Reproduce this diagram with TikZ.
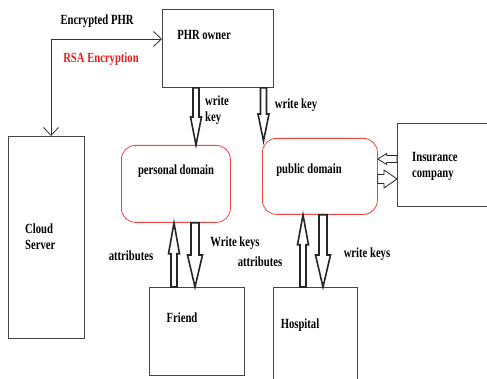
\documentclass[tikz,border=0pt]{standalone}
\usepackage{fontspec}
\setmainfont{Liberation Serif}[FakeStretch=0.76]
\usetikzlibrary{arrows.meta,calc}
\definecolor{boxline}{RGB}{70,70,70}
\definecolor{roundred}{RGB}{235,70,70}
\definecolor{rsared}{RGB}{235,30,30}
\newcommand\blockv[5]{% start, end, shaft half width, head half width, head length
  \draw[barrow] let \p1=(#1), \p2=(#2), \n1={sign(\y2-\y1)} in
    (\x1-#3pt,\y1) -- (\x1-#3pt,\y2-\n1*#5pt) -- (\x1-#4pt,\y2-\n1*#5pt) -- (\x1,\y2)
    -- (\x1+#4pt,\y2-\n1*#5pt) -- (\x1+#3pt,\y2-\n1*#5pt) -- (\x1+#3pt,\y1) -- cycle
    [line width=1.6pt] (\x1-#3pt,\y1) -- (\x1+#3pt,\y1);}
\newcommand\blockh[5]{%
  \draw[barrow] let \p1=(#1), \p2=(#2), \n1={sign(\x2-\x1)} in
    (\x1,\y1-#3pt) -- (\x2-\n1*#5pt,\y1-#3pt) -- (\x2-\n1*#5pt,\y1-#4pt) -- (\x2,\y1)
    -- (\x2-\n1*#5pt,\y1+#4pt) -- (\x2-\n1*#5pt,\y1+#3pt) -- (\x1,\y1+#3pt) -- cycle;}
\begin{document}
\begin{tikzpicture}[x=1pt,y=-1pt,
  every node/.style={font=\bfseries\fontsize{14}{16}\selectfont, inner sep=0pt},
  box/.style={draw=boxline, line width=0.9pt, anchor=north west},
  dom/.style={draw=roundred, line width=0.8pt, rounded corners=14pt, anchor=north west},
  barrow/.style={draw=black!85, line width=0.8pt, fill=white},
  thinarrow/.style={draw=black!80, line width=0.8pt, {Straight Barb[length=8pt,width=15pt]}-{Straight Barb[length=8pt,width=15pt]}},
  lbl/.style={anchor=center}]
\useasboundingbox (0,0) rectangle (487,379);
\fill[white] (0,0) rectangle (487,379);

% boxes
\node[box, minimum width=111pt, minimum height=78pt] (owner) at (162,9) {};
\node[box, minimum width=76pt, minimum height=202pt] (cloud) at (8,136) {};
\node[dom, minimum width=109pt, minimum height=77pt] (pers) at (121,145) {};
\node[dom, minimum width=115pt, minimum height=76pt] (pub) at (262,138) {};
\node[box, minimum width=95pt, minimum height=88pt] (friend) at (149,287) {};
\node[anchor=north west, minimum width=84pt, minimum height=94pt] (hosp) at (273,287) {};
\draw[boxline, line width=0.9pt] (hosp.south west) -- (hosp.north west) -- (hosp.north east) -- (hosp.south east);
\node[anchor=north west, minimum width=92pt, minimum height=83pt] (ins) at (397,123) {};
\draw[boxline, line width=0.9pt] (ins.north east) -- (ins.north west) -- (ins.south west) -- (ins.south east);

% texts in boxes
\node[lbl] (towner) at (204,35) {PHR owner};
\node[anchor=west, align=left] (tcloud) at (25,237) {Cloud\\Server};
\node[lbl] (tpers) at (176,171) {personal domain};
\node[lbl] (tpub) at (309,170) {public domain};
\node[lbl] (tfriend) at (182,318) {Friend};
\node[lbl] (thosp) at (300,325) {Hospital};
\node[anchor=west, align=left] (tins) at (412,166) {Insurance\\company};

% thin connector cloud <-> owner
\coordinate (corner) at (51,39);
\draw[thinarrow] (cloud.north -| corner) -- (corner) -- (owner.west |- corner);
\node[lbl] (tenc) at (97,21) {Encrypted PHR};
\node[lbl, text=rsared] (trsa) at (101,59) {RSA Encryption};

% block arrows
\coordinate (pubtip) at (263.5,141);
\blockv{196,0 |- owner.south}{196,0 |- pers.north}{3}{5.5}{28}
\blockv{263.5,0 |- owner.south}{pubtip}{3}{5.5}{27}
\blockv{174,0 |- friend.north}{174,0 |- pers.south}{3}{5.5}{31}
\blockv{195,0 |- pers.south}{195,0 |- friend.north}{4}{7.5}{32}
\blockv{303,0 |- hosp.north}{303,0 |- pub.south}{3}{5.5}{30}
\blockv{323,0 |- pub.south}{323,0 |- hosp.north}{4}{7.5}{32}
\blockh{ins.west |- 0,159}{pub.east |- 0,159}{3.5}{5.5}{9}
\blockh{pub.east |- 0,179}{ins.west |- 0,179}{4.5}{9}{13}

% labels
\node[anchor=west, align=left] (twk1) at (205,110) {write\\key};
\node[lbl] (twk2) at (296,105) {write key};
\node[lbl] (tatt1) at (131,256) {attributes};
\node[lbl] (twks1) at (235,243) {Write keys};
\node[lbl] (tatt2) at (260,262) {attributes};
\node[lbl] (twks2) at (367,254) {write keys};
\end{tikzpicture}
\end{document}
